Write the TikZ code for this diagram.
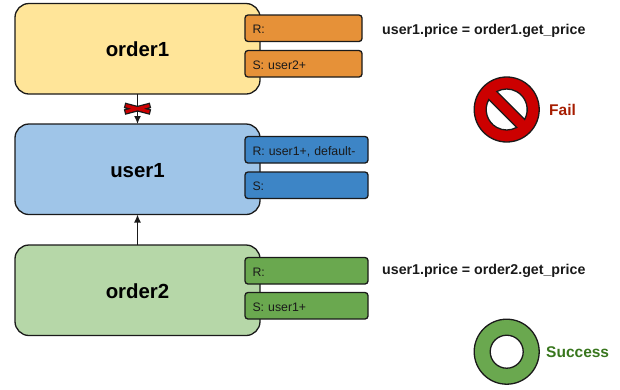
\documentclass[tikz,border=0pt]{standalone}
\usepackage{fontspec}
\setmainfont{Liberation Sans}
\usetikzlibrary{arrows.meta}
\definecolor{yel}{HTML}{FFE599}
\definecolor{ora}{HTML}{E69138}
\definecolor{lblu}{HTML}{9FC5E8}
\definecolor{dblu}{HTML}{3D85C6}
\definecolor{lgrn}{HTML}{B6D7A8}
\definecolor{dgrn}{HTML}{6AA84F}
\definecolor{rd}{HTML}{CC0000}
\definecolor{failc}{HTML}{A61C00}
\definecolor{succ}{HTML}{38761D}
\definecolor{ink}{HTML}{1A1A1A}
\tikzset{
  mainbox/.style={draw=ink,line width=1.3pt,rounded corners=14pt,minimum width=245pt,minimum height=90.5pt,inner sep=0pt,outer sep=0pt,anchor=north west,text height=16pt,text depth=0pt,font=\fontsize{20.4}{24}\selectfont\bfseries},
  rsbox/.style={draw=ink,line width=1.3pt,rounded corners=3pt,minimum height=26.5pt,inner ysep=0pt,inner xsep=7.5pt,outer sep=0pt,anchor=north west,align=left,text=ink,text height=10.5pt,text depth=0pt,font=\fontsize{12.3}{14}\selectfont},
  short/.style={rsbox,text width=102pt},
  long/.style={rsbox,text width=108pt},
  formula/.style={anchor=west,inner sep=0pt,font=\fontsize{14.2}{16}\selectfont\bfseries,text=ink},
  verdict/.style={anchor=west,inner sep=0pt,font=\fontsize{15.5}{18}\selectfont\bfseries},
  conn/.style={draw=ink,line width=1.3pt,-{Latex[length=8pt,width=7pt]}},
  ring/.style={draw=ink,line width=1.3pt}
}
\begin{document}
\begin{tikzpicture}[x=1pt,y=-1pt]
\useasboundingbox (0,0) rectangle (620,389);
\node[mainbox,fill=yel] (order1) at (15,3.5) {order1};
\node[mainbox,fill=lblu] (user1) at (15,124) {user1};
\node[mainbox,fill=lgrn] (order2) at (15,245) {order2};

\node[short,fill=ora] (o1r) at (245,15) {R:};
\node[short,fill=ora] (o1s) at (245,50.5) {S: user2+};
\node[long,fill=dblu] (u1r) at (245,136.5) {R: user1+, default-};
\node[long,fill=dblu] (u1s) at (245,172) {S:};
\node[long,fill=dgrn] (o2r) at (245,257.5) {R:};
\node[long,fill=dgrn] (o2s) at (245,292.5) {S: user1+};

\draw[conn] (order1.south) -- (user1.north);
\draw[conn] (order2.north) -- (user1.south);

% red cross over the blocked connector
\begin{scope}[shift={(137.5,108.7)}]
  \draw[line width=5.6pt,draw=ink] (-13,-3.4) -- (13,3.4) (-13,3.4) -- (13,-3.4);
  \draw[line width=3pt,draw=rd] (-11.8,-3.1) -- (11.8,3.1) (-11.8,3.1) -- (11.8,-3.1);
\end{scope}

\node[formula] (f1) at (382,30.5) {user1.price = order1.get\_price};
\node[formula] (f2) at (382,271) {user1.price = order2.get\_price};

% fail sign
\begin{scope}[shift={(506.7,109.5)},y=1pt,rotate=-45]
  \fill[rd] (0,0) circle (32.5pt);
  \draw[ring] (0,0) circle (32.5pt);
  \draw[ring,fill=white] (16:20.5) arc (16:164:20.5) -- cycle;
  \draw[ring,fill=white] (196:20.5) arc (196:344:20.5) -- cycle;
\end{scope}
\node[verdict,text=failc] (fail) at (549,110) {Fail};

% success ring
\draw[ring,fill=dgrn] (506.7,351.7) circle (32.5pt);
\draw[ring,fill=white] (506.7,351.7) circle (16.5pt);
\node[verdict,text=succ] (success) at (546,352) {Success};
\end{tikzpicture}
\end{document}
